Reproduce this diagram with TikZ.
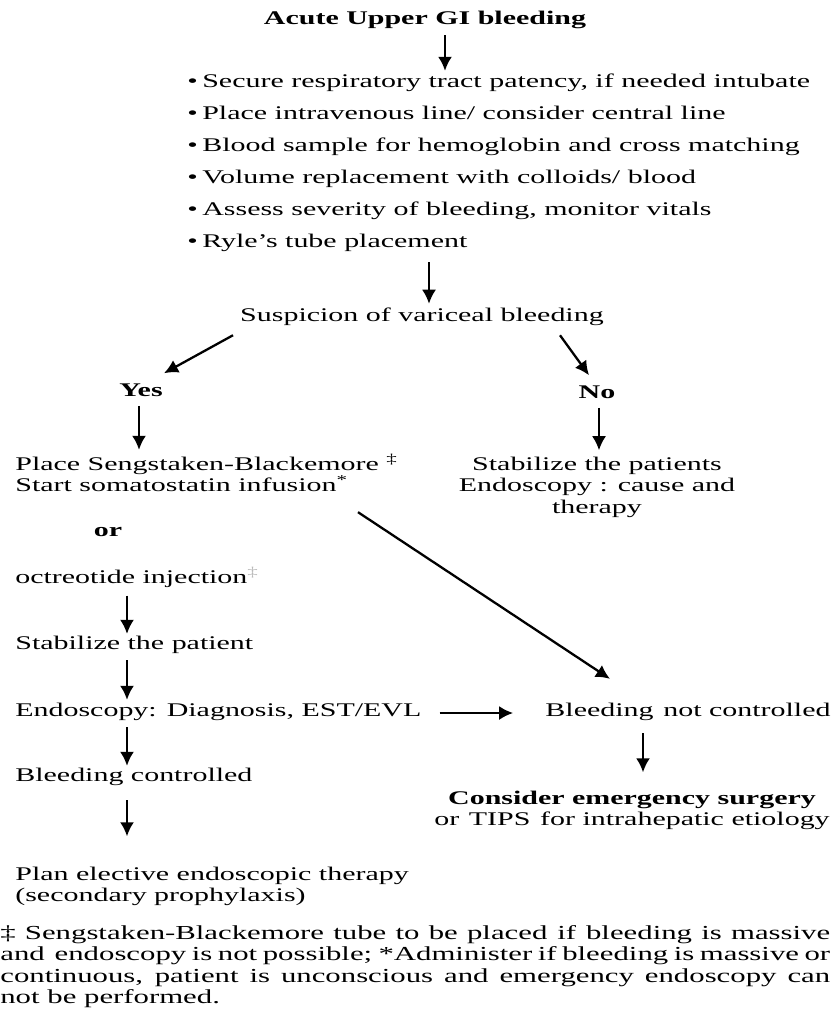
\documentclass[tikz,border=0pt]{standalone}
\usepackage{fontspec}
\setmainfont[FakeStretch=1.55]{Liberation Serif}
\usepackage{tikz}
\usetikzlibrary{calc, arrows.meta}

\begin{document}
\begin{tikzpicture}[x=0.02cm, y=-0.02cm,
      txt/.style={font=\fontsize{11}{12}\selectfont, inner sep=0pt, align=center},
      lft/.style={txt, anchor=west, align=left},
      hd/.style={txt, font=\fontsize{11}{12}\selectfont\bfseries},
      arr/.style={-{Latex[length=8pt, width=8pt]}, line width=1.3pt}]
      \useasboundingbox (0,0) rectangle (832,1012);
      % Top of the chart
      \node[hd] (title) at (425,20) {Acute Upper GI bleeding};
      \node[lft, font=\fontsize{11}{18.2}\selectfont] (list) at (187,163)
        {\makebox[0.3cm][l]{\textbullet}Secure respiratory tract patency, if needed intubate\\
         \makebox[0.3cm][l]{\textbullet}Place intravenous line/ consider central line\\
         \makebox[0.3cm][l]{\textbullet}Blood sample for hemoglobin and cross matching\\
         \makebox[0.3cm][l]{\textbullet}Volume replacement with colloids/ blood\\
         \makebox[0.3cm][l]{\textbullet}Assess severity of bleeding, monitor vitals\\
         \makebox[0.3cm][l]{\textbullet}Ryle’s tube placement};
      \node[txt] (susp) at (422,317) {Suspicion of variceal bleeding};
      % Branches
      \node[hd] (yes) at (141,390) {Yes};
      \node[hd] (no)  at (597,392) {No};
      \node[lft] (sb) at (15,473) {Place Sengstaken-Blackemore \textsuperscript{‡}\\Start somatostatin infusion\textsuperscript{*}};
      \node[txt, font=\fontsize{11}{12.3}\selectfont] (stab) at (597,487) {Stabilize the patients\\Endoscopy : cause and\\therapy};
      \node[hd] (or) at (108,532) {or};
      \node[lft] (oct) at (15,577) {octreotide injection\textsuperscript{\color{gray!55}‡}};
      \node[lft] (stab2) at (15,645) {Stabilize the patient};
      \node[lft] (endo) at (15,712) {Endoscopy: Diagnosis, EST/EVL};
      \node[txt] (notc) at (688,712) {Bleeding\enspace not controlled};
      \node[lft] (ctrl) at (15,777) {Bleeding controlled};
      \node[txt] (surg) at (632,810) {\textbf{Consider emergency surgery}\\or\enspace TIPS\enspace for intrahepatic etiology};
      \node[lft] (plan) at (15,886) {Plan elective endoscopic therapy\\(secondary prophylaxis)};
      % Footnote
      \node[txt, anchor=north west, text width=16.6cm, align=justify,
            font=\fontsize{11.3}{12.2}\selectfont] (note) at (0,925)
        {‡ Sengstaken-Blackemore tube to be placed\enspace if\enspace bleeding is massive\linebreak
         and\enspace endoscopy is not possible; *Administer if bleeding is massive or\linebreak
         continuous, patient is unconscious and emergency endoscopy can\linebreak
         not be performed.};
      % Arrows
      \draw[arr] ($(445,0 |- title.south)+(0,6)$) -- ($(445,0 |- list.north)+(0,-3)$);
      \draw[arr] ($(429,0 |- list.south)+(0,10)$) -- ($(429,0 |- susp.north)+(0,-4)$);
      \draw[arr] ($(233,0 |- susp.south)+(0,9)$) -- ($(164,0 |- yes.north)+(0,-10)$);
      \draw[arr] ($(560,0 |- susp.south)+(0,9)$) -- ($(589,0 |- no.north)+(0,-10)$);
      \draw[arr] ($(139,0 |- yes.south)+(0,9)$) -- ($(139,0 |- sb.north)+(0,-4)$);
      \draw[arr] ($(599,0 |- no.south)+(0,9)$) -- ($(599,0 |- stab.north)+(0,-6)$);
      \draw[arr] ($(358,0 |- sb.south)+(0,20)$) -- ($(610,0 |- notc.north)+(0,-24)$);
      \draw[arr] ($(127,0 |- oct.south)+(0,8)$) -- ($(127,0 |- stab2.north)+(0,-2)$);
      \draw[arr] ($(127,0 |- stab2.south)+(0,6)$) -- ($(127,0 |- endo.north)+(0,-3)$);
      \draw[arr] ($(endo.east)+(18,1)$) -- ($(notc.west)+(-32,1)$);
      \draw[arr] ($(127,0 |- endo.south)+(0,6)$) -- ($(127,0 |- ctrl.north)+(0,-2)$);
      \draw[arr] ($(127,0 |- ctrl.south)+(0,14)$) -- ($(127,0 |- plan.north)+(0,-30)$);
      \draw[arr] ($(643,0 |- notc.south)+(0,12)$) -- ($(643,0 |- surg.north)+(0,-18)$);
    \end{tikzpicture}
\end{document}
